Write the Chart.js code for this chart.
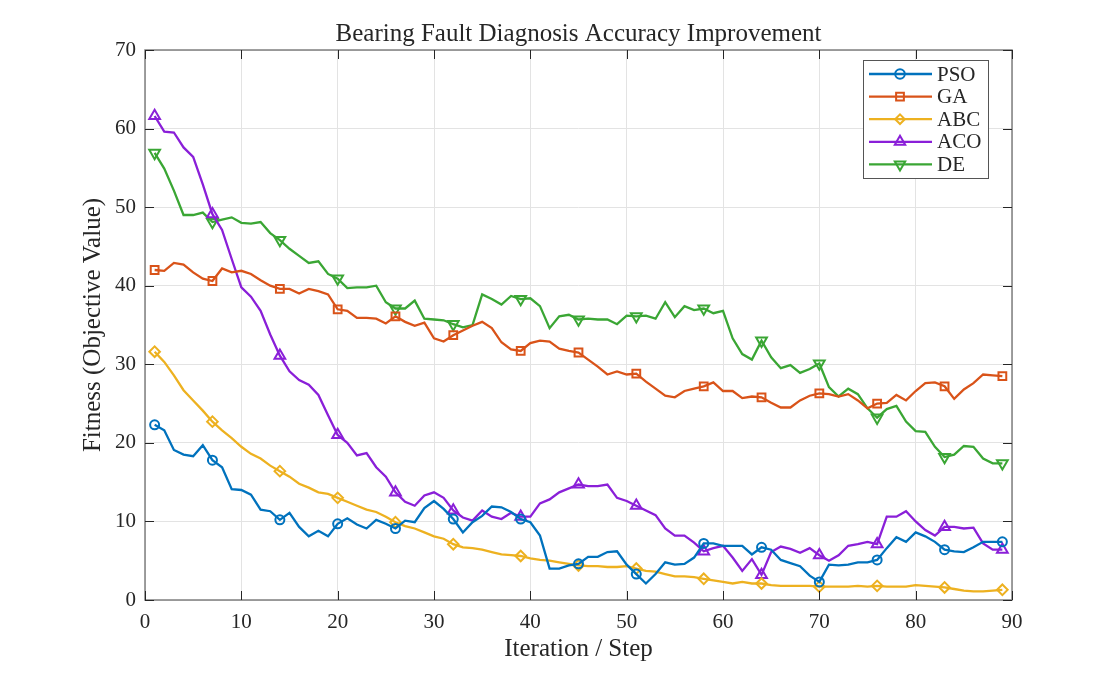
<!DOCTYPE html>
<html>
<head>
<meta charset="utf-8">
<title>Bearing Fault Diagnosis Accuracy Improvement</title>
<script src="https://cdn.jsdelivr.net/npm/chart.js@4.4.1/dist/chart.umd.min.js"></script>
<style>
    html, body { margin: 0; padding: 0; background: #ffffff; }
    #wrap { width: 1119px; height: 674px; }
</style>
</head>
<body>
<div id="wrap"><canvas id="fitnessChart" width="1119" height="674"></canvas></div>
<script>
// Iterations (x axis) and iterations that carry a marker
const iterations = Array.from({length: 89}, (_, i) => i + 1);
const markerIters = [1, 7, 14, 20, 26, 32, 39, 45, 51, 58, 64, 70, 76, 83, 89];

const xTicks = [0, 10, 20, 30, 40, 50, 60, 70, 80, 90];
const yTicks = [0, 10, 20, 30, 40, 50, 60, 70];

const chartTitle = 'Bearing Fault Diagnosis Accuracy Improvement';

// Valeurs
const psoValues = [
    22.3, 21.6, 19.1, 18.5, 18.3, 19.7, 17.8, 16.9, 14.1, 14.0,
    13.4, 11.5, 11.3, 10.2, 11.1, 9.3, 8.1, 8.8, 8.1, 9.7,
    10.4, 9.6, 9.1, 10.2, 9.7, 9.1, 10.1, 9.9, 11.7, 12.6,
    11.6, 10.3, 8.6, 9.9, 10.7, 11.9, 11.8, 11.2, 10.3, 9.9,
    8.2, 4.0, 4.0, 4.4, 4.6, 5.5, 5.5, 6.1, 6.2, 4.5,
    3.3, 2.1, 3.3, 4.8, 4.5, 4.6, 5.4, 7.2, 7.2, 6.9,
    6.9, 6.9, 5.8, 6.7, 6.4, 5.1, 4.7, 4.3, 3.1, 2.3,
    4.5, 4.4, 4.5, 4.8, 4.8, 5.1, 6.6, 8.0, 7.4, 8.6,
    8.1, 7.4, 6.4, 6.2, 6.1, 6.7, 7.4, 7.4, 7.4
];
const gaValues = [
    42.0, 41.9, 42.9, 42.7, 41.7, 40.9, 40.6, 42.2, 41.7, 41.9,
    41.5, 40.7, 40.0, 39.6, 39.6, 39.0, 39.6, 39.3, 38.9, 37.0,
    36.8, 35.9, 35.9, 35.8, 35.2, 36.1, 35.4, 34.9, 35.3, 33.3,
    32.9, 33.7, 34.3, 34.9, 35.4, 34.6, 32.8, 31.9, 31.7, 32.7,
    33.0, 32.9, 32.0, 31.7, 31.5, 30.6, 29.7, 28.7, 29.1, 28.7,
    28.8, 27.8, 26.9, 26.0, 25.8, 26.6, 26.9, 27.2, 27.7, 26.6,
    26.6, 25.7, 25.9, 25.8, 25.1, 24.5, 24.5, 25.4, 26.0, 26.3,
    26.2, 25.9, 26.2, 25.4, 24.4, 25.0, 25.1, 26.1, 25.4, 26.6,
    27.6, 27.7, 27.2, 25.6, 26.8, 27.6, 28.7, 28.6, 28.5
];
const abcValues = [
    31.6, 30.3, 28.6, 26.7, 25.4, 24.1, 22.7, 21.6, 20.6, 19.5,
    18.6, 18.0, 17.1, 16.4, 15.7, 14.8, 14.3, 13.7, 13.5, 13.0,
    12.5, 12.0, 11.5, 11.2, 10.6, 9.9, 9.4, 9.1, 8.6, 8.1,
    7.8, 7.1, 6.7, 6.6, 6.4, 6.1, 5.8, 5.7, 5.6, 5.3,
    5.1, 5.0, 4.8, 4.6, 4.4, 4.3, 4.3, 4.2, 4.2, 4.3,
    4.0, 3.7, 3.6, 3.3, 3.0, 3.0, 2.9, 2.7, 2.5, 2.3,
    2.1, 2.3, 2.1, 2.1, 1.9, 1.8, 1.8, 1.8, 1.8, 1.7,
    1.7, 1.7, 1.7, 1.8, 1.7, 1.8, 1.7, 1.7, 1.7, 1.9,
    1.8, 1.7, 1.6, 1.4, 1.2, 1.1, 1.1, 1.2, 1.3
];
const acoValues = [
    61.6, 59.6, 59.5, 57.6, 56.4, 52.9, 49.1, 47.1, 43.4, 39.8,
    38.6, 36.8, 33.8, 31.1, 29.1, 28.0, 27.4, 26.1, 23.5, 21.0,
    20.0, 18.4, 18.7, 16.9, 15.7, 13.7, 12.5, 12.0, 13.3, 13.7,
    13.0, 11.4, 10.5, 10.1, 11.4, 10.6, 10.3, 11.1, 10.6, 10.6,
    12.3, 12.8, 13.7, 14.2, 14.7, 14.5, 14.5, 14.7, 13.0, 12.6,
    12.0, 11.4, 10.8, 9.1, 8.2, 8.2, 7.3, 6.2, 6.6, 6.9,
    5.4, 3.7, 5.2, 3.2, 6.1, 6.8, 6.5, 6.0, 6.6, 5.7,
    5.0, 5.7, 6.9, 7.1, 7.4, 7.1, 10.6, 10.6, 11.3, 10.0,
    8.9, 8.2, 9.3, 9.3, 9.1, 9.2, 7.2, 6.4, 6.4
];
const deValues = [
    56.9, 54.9, 52.1, 49.0, 49.0, 49.3, 48.1, 48.4, 48.7, 48.0,
    47.9, 48.1, 46.7, 45.8, 44.7, 43.8, 42.9, 43.1, 41.5, 40.9,
    39.7, 39.8, 39.8, 40.0, 37.9, 37.1, 37.1, 38.1, 35.8, 35.7,
    35.6, 35.1, 34.7, 35.0, 38.9, 38.3, 37.6, 38.7, 38.3, 38.4,
    37.4, 34.6, 36.1, 36.3, 35.7, 35.8, 35.7, 35.7, 35.1, 36.2,
    36.1, 36.2, 35.8, 37.9, 36.0, 37.4, 36.9, 37.1, 36.5, 36.8,
    33.3, 31.3, 30.6, 33.0, 30.9, 29.5, 29.9, 28.9, 29.4, 30.1,
    27.1, 25.9, 26.9, 26.2, 24.4, 23.2, 24.3, 24.7, 22.7, 21.5,
    21.4, 19.5, 18.2, 18.5, 19.6, 19.5, 18.0, 17.4, 17.4
];

const FONT = "'Liberation Serif', 'Times New Roman', serif";
const TEXT_COLOR = '#262626';
const AXIS_COLOR = '#808080';

function makeSeries(label, values, color, pointStyle, radius, rotation) {
    return {
        label: label,
        data: values.map((v, i) => ({x: iterations[i], y: v})),
        borderColor: color,
        backgroundColor: color,
        borderWidth: 2.3,
        pointStyle: pointStyle,
        pointRotation: rotation || 0,
        pointRadius: ctx => markerIters.includes(iterations[ctx.dataIndex]) ? radius : 0,
        pointHoverRadius: 0,
        pointBorderWidth: 2,
        pointBorderColor: color,
        pointBackgroundColor: 'rgba(0,0,0,0)',
        tension: 0,
        fill: false
    };
}

// Titre centré sur la zone de tracé
const plotTitle = {
    id: 'plotTitle',
    afterDraw(chart) {
        const {ctx, chartArea: a} = chart;
        ctx.save();
        ctx.fillStyle = TEXT_COLOR;
        ctx.font = '25px ' + FONT;
        ctx.textAlign = 'center';
        ctx.textBaseline = 'middle';
        ctx.fillText(chartTitle, (a.left + a.right) / 2, 34);
        ctx.restore();
    }
};

// Ticks intérieurs et cadre (style MATLAB)
const frameTicks = {
    id: 'frameTicks',
    afterDatasetsDraw(chart) {
        const {ctx, chartArea: a, scales} = chart;
        ctx.save();
        ctx.strokeStyle = AXIS_COLOR;
        ctx.lineWidth = 1.5;
        ctx.beginPath();
        ctx.rect(a.left, a.top, a.right - a.left, a.bottom - a.top);
        ctx.stroke();
        ctx.strokeStyle = TEXT_COLOR;
        ctx.lineWidth = 1;
        ctx.beginPath();
        xTicks.forEach(t => {
            const px = Math.round(scales.x.getPixelForValue(t)) + 0.5;
            ctx.moveTo(px, a.bottom); ctx.lineTo(px, a.bottom - 9);
            ctx.moveTo(px, a.top); ctx.lineTo(px, a.top + 9);
        });
        yTicks.forEach(t => {
            const py = Math.round(scales.y.getPixelForValue(t)) + 0.5;
            ctx.moveTo(a.left, py); ctx.lineTo(a.left + 9, py);
            ctx.moveTo(a.right, py); ctx.lineTo(a.right - 9, py);
        });
        ctx.stroke();
        ctx.restore();
    }
};

// Légende encadrée en haut à droite
const boxLegend = {
    id: 'boxLegend',
    afterDraw(chart) {
        const {ctx, chartArea: a} = chart;
        const boxW = 125, boxH = 118;
        const left = a.right - 24 - boxW;
        const top = a.top + 10;
        ctx.save();
        ctx.fillStyle = '#ffffff';
        ctx.fillRect(left, top, boxW, boxH);
        ctx.strokeStyle = '#555555';
        ctx.lineWidth = 1;
        ctx.strokeRect(left + 0.5, top + 0.5, boxW, boxH);
        chart.data.datasets.forEach((ds, i) => {
            const y = top + 14 + i * 22.6;
            ctx.strokeStyle = ds.borderColor;
            ctx.lineWidth = 2.3;
            ctx.beginPath();
            ctx.moveTo(left + 6, y);
            ctx.lineTo(left + 69, y);
            ctx.stroke();
            ctx.lineWidth = 2;
            ctx.fillStyle = 'rgba(0,0,0,0)';
            Chart.helpers.drawPoint(ctx, {
                pointStyle: ds.pointStyle,
                rotation: ds.pointRotation,
                radius: ds.pointStyle === 'triangle' ? 6 : (ds.pointStyle === 'rect' ? 5.5 : 4.8),
                borderWidth: 2
            }, left + 37, y);
            ctx.fillStyle = TEXT_COLOR;
            ctx.font = '21px ' + FONT;
            ctx.textBaseline = 'middle';
            ctx.textAlign = 'left';
            ctx.fillText(ds.label, left + 74, y + 1);
        });
        ctx.restore();
    }
};

new Chart(document.getElementById('fitnessChart').getContext('2d'), {
    type: 'line',
    data: {
        datasets: [
            makeSeries('PSO', psoValues, '#0072BD', 'circle', 4.5),
            makeSeries('GA', gaValues, '#D95319', 'rect', 5.5),
            makeSeries('ABC', abcValues, '#EDB120', 'rectRot', 5.3),
            makeSeries('ACO', acoValues, '#8A1FD8', 'triangle', 6.2),
            makeSeries('DE', deValues, '#3AA634', 'triangle', 6.2, 180)
        ]
    },
    options: {
        responsive: false,
        animation: false,
        devicePixelRatio: 1,
        layout: {
            padding: {left: 0, right: 107, top: 50, bottom: 0}
        },
        plugins: {
            legend: {display: false},
            tooltip: {enabled: false},
            title: {display: false}
        },
        scales: {
            x: {
                type: 'linear',
                min: 0,
                max: 90,
                afterBuildTicks: scale => { scale.ticks = xTicks.map(v => ({value: v})); },
                afterFit: scale => { scale.height = 74; },
                grid: {color: '#e3e3e3', lineWidth: 1, drawTicks: false},
                border: {display: false},
                ticks: {
                    color: TEXT_COLOR,
                    font: {family: FONT, size: 21},
                    padding: 10,
                    maxRotation: 0
                },
                title: {
                    display: true,
                    text: 'Iteration / Step',
                    color: TEXT_COLOR,
                    font: {family: FONT, size: 25},
                    padding: {top: 0, bottom: 10}
                }
            },
            y: {
                type: 'linear',
                min: 0,
                max: 70,
                afterBuildTicks: scale => { scale.ticks = yTicks.map(v => ({value: v})); },
                afterFit: scale => { scale.width = 145; },
                grid: {color: '#e3e3e3', lineWidth: 1, drawTicks: false},
                border: {display: false},
                ticks: {
                    color: TEXT_COLOR,
                    font: {family: FONT, size: 21},
                    padding: 9
                },
                title: {
                    display: true,
                    text: 'Fitness (Objective Value)',
                    color: TEXT_COLOR,
                    font: {family: FONT, size: 25},
                    padding: {top: 78, bottom: 0}
                }
            }
        }
    },
    plugins: [frameTicks, boxLegend, plotTitle]
});
</script>
</body>
</html>
